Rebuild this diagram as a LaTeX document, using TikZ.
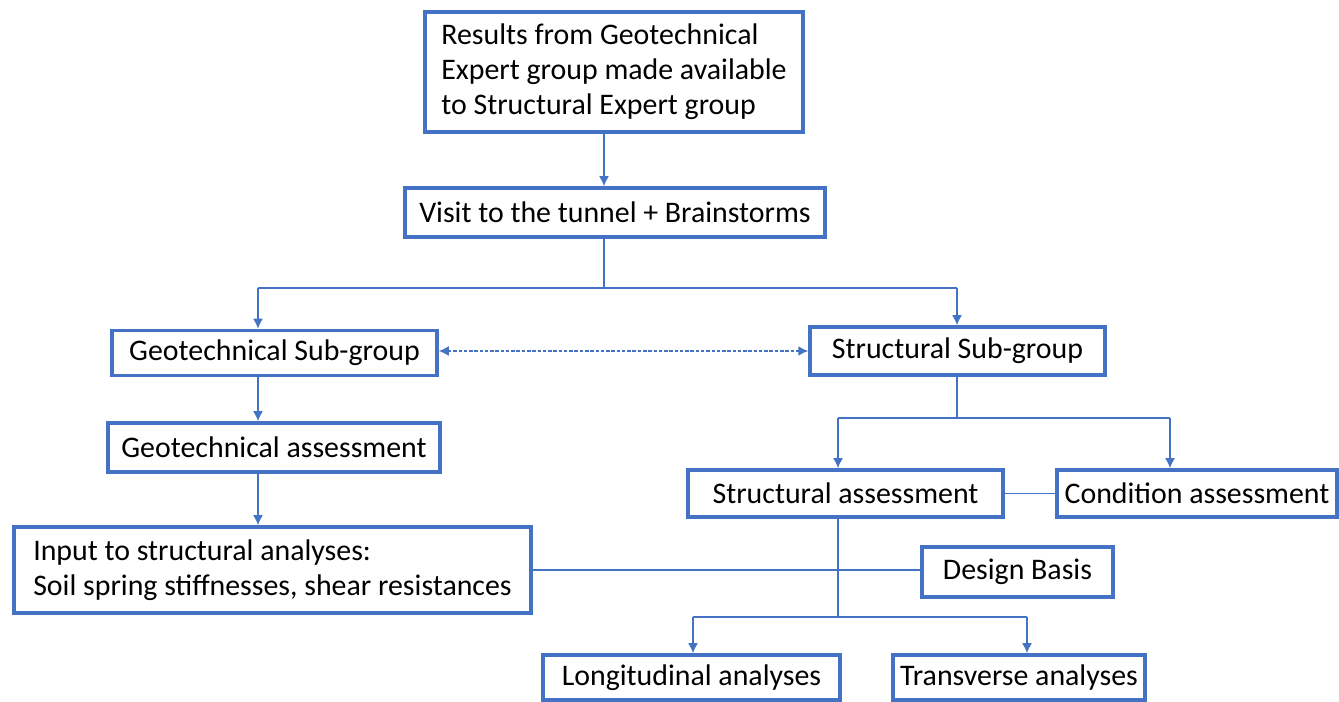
\documentclass[tikz,border=0pt]{standalone}
\usepackage{fontspec}
\setmainfont{Carlito}
\usetikzlibrary{arrows.meta}
\definecolor{lineblue}{RGB}{68,114,196}
\tikzset{
	box/.style={draw=lineblue,line width=2pt,rectangle,inner xsep=3pt,font=\fontsize{17}{20}\selectfont},
	edge/.style={-{Latex[length=2mm,width=2mm]},draw=lineblue,line width=0.9pt},
	link/.style={draw=lineblue,line width=0.9pt}
}

\begin{document}
\begin{tikzpicture}[x=0.02cm,y=-0.02cm]
	\useasboundingbox (0,0) rectangle (1339,702);
	\node[box,minimum width=378*0.02cm,minimum height=120*0.02cm,align=left] (res) at (614,72) {Results from Geotechnical\\Expert group made available\\to Structural Expert group};
	\node[box,minimum width=420*0.02cm,minimum height=49*0.02cm] (visit) at (615,212.5) {Visit to the tunnel + Brainstorms};
	\node[box,minimum width=325*0.02cm,minimum height=45*0.02cm] (geosub) at (274.5,353) {Geotechnical Sub-group};
	\node[box,minimum width=295*0.02cm,minimum height=48*0.02cm] (strsub) at (957.5,351) {Structural Sub-group};
	\node[box,minimum width=332*0.02cm,minimum height=49*0.02cm] (geoass) at (274,447.5) {Geotechnical assessment};
	\node[box,minimum width=517*0.02cm,minimum height=86*0.02cm,align=left] (input) at (272.5,570) {Input to structural analyses:\\Soil spring stiffnesses, shear resistances};
	\node[box,minimum width=315*0.02cm,minimum height=47*0.02cm] (strass) at (845.5,493.5) {Structural assessment};
	\node[box,minimum width=280*0.02cm,minimum height=47*0.02cm] (cond) at (1197,493.5) {Condition assessment};
	\node[box,minimum width=191*0.02cm,minimum height=50*0.02cm] (design) at (1017.5,572) {Design Basis};
	\node[box,minimum width=297*0.02cm,minimum height=45*0.02cm] (longi) at (691.5,677.5) {Longitudinal analyses};
	\node[box,minimum width=252*0.02cm,minimum height=45*0.02cm] (trans) at (1019,677.5) {Transverse analyses};
	
	% branch points
	\coordinate (splitA) at (604,288);
	\coordinate (gcol) at (258,288);
	\coordinate (scol) at (957,288);
	\coordinate (splitB) at (957,418);
	\coordinate (sa) at (838,418);
	\coordinate (ca) at (1170,418);
	\coordinate (splitC) at (838,617);
	\coordinate (la) at (693,617);
	\coordinate (ta) at (1027,617);
	
	\draw[edge] (res.south -| splitA) -- (visit.north -| splitA);
	\draw[link] (visit.south -| splitA) -- (splitA);
	\draw[link] (gcol) -- (scol);
	\draw[edge] (gcol) -- (geosub.north -| gcol);
	\draw[edge] (scol) -- (strsub.north -| scol);
	\draw[edge,{Latex[length=2mm,width=2mm]}-{Latex[length=2mm,width=2mm]},dash pattern=on 2pt off 1pt] (geosub.east |- strsub.west) -- (strsub.west);
	
	\draw[edge] (geosub.south -| gcol) -- (geoass.north -| gcol);
	\draw[edge] (geoass.south -| gcol) -- (input.north -| gcol);
	
	\draw[link] (strsub.south -| splitB) -- (splitB);
	\draw[link] (sa) -- (ca);
	\draw[edge] (sa) -- (strass.north -| sa);
	\draw[edge] (ca) -- (cond.north -| ca);
	\draw[link] (strass.east) -- (cond.west);
	
	\draw[link] (strass.south -| splitC) -- (splitC);
	\draw[link] (la) -- (ta);
	\draw[edge] (la) -- (longi.north -| la);
	\draw[edge] (ta) -- (trans.north -| ta);
	\draw[link] (input.east) -- (design.west |- input.east);
\end{tikzpicture}
\end{document}
